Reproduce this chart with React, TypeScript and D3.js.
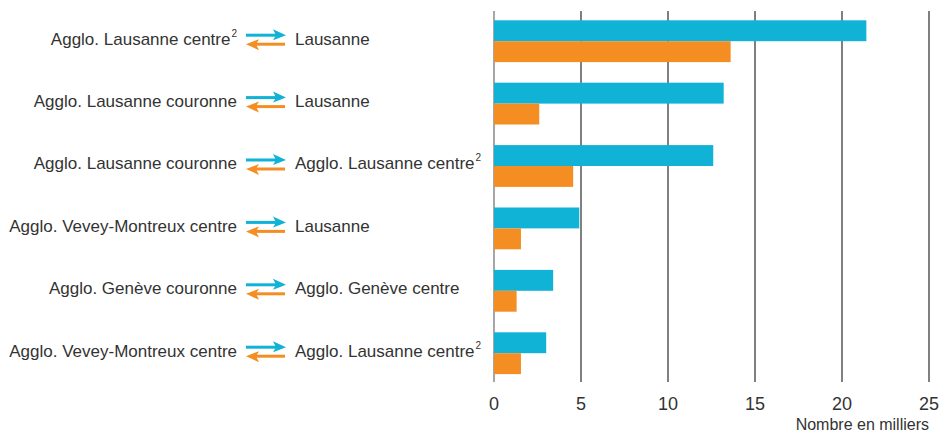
import React from "react";
import * as d3 from "d3";

const width = 944;
const height = 432;
const margin = { top: 11, right: 15, bottom: 50, left: 494 };

// pairs: origin -> destination (sup = footnote 2)
const origins = [
  "Agglo. Lausanne centre",
  "Agglo. Lausanne couronne",
  "Agglo. Lausanne couronne",
  "Agglo. Vevey-Montreux centre",
  "Agglo. Genève couronne",
  "Agglo. Vevey-Montreux centre",
];
const originSup = [true, false, false, false, false, false];
const destinations = [
  "Lausanne",
  "Lausanne",
  "Agglo. Lausanne centre",
  "Lausanne",
  "Agglo. Genève centre",
  "Agglo. Lausanne centre",
];
const destSup = [false, false, true, false, false, true];
// blue = origin -> destination, orange = destination -> origin
const forward = [21.4, 13.2, 12.6, 4.9, 3.4, 3.0];
const backward = [13.6, 2.6, 4.55, 1.55, 1.3, 1.55];
const ticks = [0, 5, 10, 15, 20, 25];

const blue = "#10b2d6";
const orange = "#f58e22";
const textColor = "#333";
const font = "'Liberation Sans Narrow', 'Liberation Sans', Arial, sans-serif";

const rows = origins.map((o, i) => i);

export default function App() {
  const x = d3.scaleLinear().domain([0, 25]).range([margin.left, width - margin.right]);
  const y = d3
    .scaleBand<number>()
    .domain(rows)
    .range([10, 384.4])
    .paddingInner(0.33)
    .paddingOuter(0.165);
  const bh = y.bandwidth() / 2;
  const axisBottom = 382;

  return (
    <svg
      width={width}
      height={height}
      style={{ position: "absolute", left: 0, top: 0, fontFamily: font }}
    >
      {/* gridlines */}
      {ticks.map((t) => (
        <line
          key={"g" + t}
          x1={x(t)}
          x2={x(t)}
          y1={margin.top}
          y2={axisBottom}
          stroke={t === 0 ? "#888" : "#2a2a2a"}
          strokeWidth={t === 0 ? 1.5 : 1.2}
        />
      ))}
      {/* bars */}
      {rows.map((i) => {
        const y0 = y(i)!;
        return (
          <g key={"b" + i}>
            <rect x={x(0)} y={y0} width={x(forward[i]) - x(0)} height={bh} fill={blue} />
            <rect x={x(0)} y={y0 + bh} width={x(backward[i]) - x(0)} height={bh} fill={orange} />
          </g>
        );
      })}
      {/* labels and arrows */}
      {rows.map((i) => {
        const cy = y(i)! + bh;
        return (
          <g key={"l" + i} fill={textColor} fontSize={17}>
            <text x={237} y={cy} dy="0.2em" textAnchor="end">
              {origins[i]}
              {originSup[i] && (
                <tspan fontSize={10} dx={1} dy="-0.8em">
                  2
                </tspan>
              )}
            </text>
            <line x1={246} x2={276} y1={cy - 6} y2={cy - 6} stroke={blue} strokeWidth={3} />
            <path d={`M286,${cy - 6} L273,${cy - 12} L276,${cy - 6} L273,${cy - 1} Z`} fill={blue} />
            <line x1={256} x2={285} y1={cy + 3} y2={cy + 3} stroke={orange} strokeWidth={3} />
            <path d={`M246,${cy + 3} L259,${cy - 2} L256,${cy + 3} L259,${cy + 9} Z`} fill={orange} />
            <text x={295} y={cy} dy="0.2em">
              {destinations[i]}
              {destSup[i] && (
                <tspan fontSize={10} dx={1} dy="-0.8em">
                  2
                </tspan>
              )}
            </text>
          </g>
        );
      })}
      {/* tick labels */}
      {ticks.map((t) => (
        <text
          key={"t" + t}
          x={x(t)}
          y={410}
          textAnchor="middle"
          fontSize={18}
          fill={textColor}
        >
          {t}
        </text>
      ))}
      <text x={929} y={430} textAnchor="end" fontSize={16} fill={textColor}>
        Nombre en milliers
      </text>
    </svg>
  );
}
